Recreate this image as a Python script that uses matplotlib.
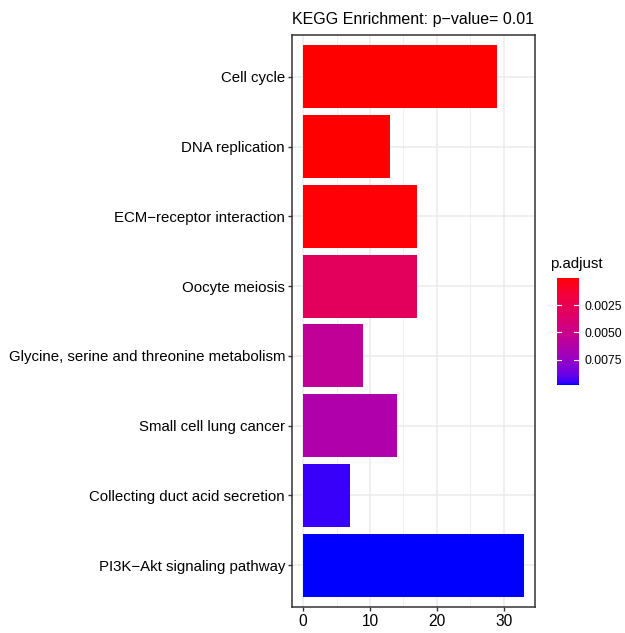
import matplotlib
matplotlib.use('Agg')
import matplotlib.pyplot as plt
import numpy as np
from matplotlib.colors import ListedColormap, Normalize
from matplotlib.cm import ScalarMappable

# KEGG terms, top to bottom as drawn
terms = ['Cell cycle', 'DNA replication', 'ECM\u2212receptor interaction', 'Oocyte meiosis',
         'Glycine, serine and threonine metabolism', 'Small cell lung cancer',
         'Collecting duct acid secretion', 'PI3K\u2212Akt signaling pathway']
counts = [29, 13, 17, 17, 9, 14, 7, 33]
p_adjust = [0.00002, 0.00005, 0.00010, 0.0030, 0.0055, 0.0064, 0.0095, 0.0098]
cbar_ticks = [0.0025, 0.0050, 0.0075]

plt.rcParams['font.family'] = ['Liberation Sans', 'DejaVu Sans']


def srgb_to_lab(rgb):
    c = np.asarray(rgb, float)
    lin = np.where(c > 0.04045, ((c + 0.055) / 1.055) ** 2.4, c / 12.92)
    M = np.array([[0.4124, 0.3576, 0.1805], [0.2126, 0.7152, 0.0722], [0.0193, 0.1192, 0.9505]])
    xyz = M @ lin / np.array([0.95047, 1.0, 1.08883])
    f = np.where(xyz > 0.008856, np.cbrt(xyz), 7.787 * xyz + 16 / 116)
    return np.array([116 * f[1] - 16, 500 * (f[0] - f[1]), 200 * (f[1] - f[2])])


def lab_to_srgb(lab):
    L, a, b = lab
    fy = (L + 16) / 116
    f = np.array([fy + a / 500, fy, fy - b / 200])
    xyz = np.where(f ** 3 > 0.008856, f ** 3, (f - 16 / 116) / 7.787) * np.array([0.95047, 1.0, 1.08883])
    Minv = np.array([[3.2406, -1.5372, -0.4986], [-0.9689, 1.8758, 0.0415], [0.0557, -0.2040, 1.0570]])
    lin = np.clip(Minv @ xyz, 0, 1)
    return np.where(lin > 0.0031308, 1.055 * lin ** (1 / 2.4) - 0.055, 12.92 * lin)


# red -> blue ramp interpolated in Lab, like ggplot's gradient
lab_lo, lab_hi = srgb_to_lab([1, 0, 0]), srgb_to_lab([0, 0, 1])
ramp = [lab_to_srgb(lab_lo + t * (lab_hi - lab_lo)) for t in np.linspace(0, 1, 256)]
cmap = ListedColormap(np.clip(ramp, 0, 1))
norm = Normalize(vmin=min(p_adjust), vmax=max(p_adjust))

fig = plt.figure(figsize=(6.25, 6.33), dpi=100)
ax = fig.add_axes([0.4672, 0.0411, 0.3888, 0.9036])

ypos = np.arange(len(terms), 0, -1)
ax.barh(ypos, counts, height=0.9, color=cmap(norm(p_adjust)), zorder=3)

ax.set_xlim(-1.65, 34.65)
ax.set_ylim(0.4, len(terms) + 0.6)
ax.set_xticks([0, 10, 20, 30])
ax.set_xticks([5, 15, 25], minor=True)
ax.set_yticks(ypos)
ax.set_yticklabels(terms)
ax.grid(True, which='major', color='#ebebeb', linewidth=1.1, zorder=0)
ax.grid(True, which='minor', axis='x', color='#ebebeb', linewidth=0.55, zorder=0)
ax.tick_params(which='major', length=3, width=1, color='#333333', labelcolor='black', pad=2)
ax.tick_params(axis='y', labelsize=10.8)
ax.tick_params(axis='x', labelsize=11.2)
ax.tick_params(which='minor', length=0)
for s in ax.spines.values():
    s.set_color('#333333')
    s.set_linewidth(1.1)
ax.set_title('KEGG Enrichment: p\u2212value= 0.01', loc='left', fontsize=11.5, pad=8)

# colour bar legend
cax = fig.add_axes([0.891, 0.392, 0.035, 0.169])
cb = fig.colorbar(ScalarMappable(norm=norm, cmap=cmap), cax=cax)
cb.outline.set_visible(False)
cb.set_ticks(cbar_ticks)
cb.set_ticklabels(['0.0025', '0.0050', '0.0075'])
cax.invert_yaxis()
cax.tick_params(length=0, labelsize=8.8, pad=4)
for t in cbar_ticks:
    cax.plot([0, 0.2], [t, t], color='white', lw=0.8, transform=cax.get_yaxis_transform())
    cax.plot([0.8, 1], [t, t], color='white', lw=0.8, transform=cax.get_yaxis_transform())
fig.text(0.88, 0.572, 'p.adjust', fontsize=10.8, ha='left', va='bottom')

plt.savefig('out.png', dpi=100)
